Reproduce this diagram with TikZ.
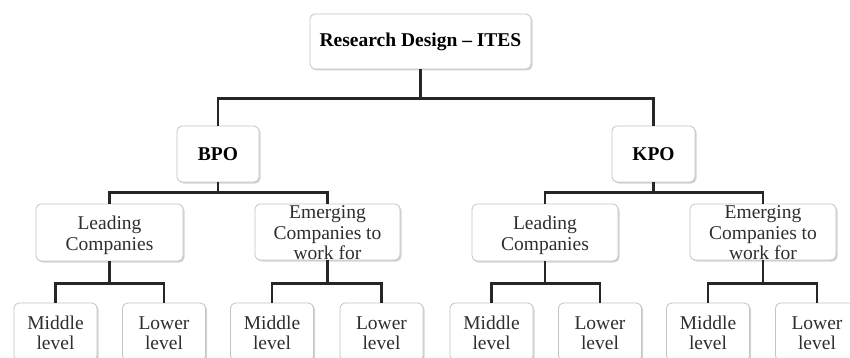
\documentclass[tikz,border=0pt]{standalone}
\usepackage{fontspec}
\setmainfont{Liberation Serif}
\usetikzlibrary{shadows}
\definecolor{BoxEdge}{HTML}{C4C4C4}
\definecolor{BoxShade}{HTML}{A0A0A0}
\definecolor{LabelGrey}{HTML}{2E2E2E}
\newcommand{\stacked}[1]{\raisebox{-8.5pt}[0pt][0pt]{\begin{tabular}{@{}c@{}}#1\end{tabular}}}

\begin{document}
\begin{tikzpicture}[x=1pt,y=-1pt,
  box/.style={draw=BoxEdge,line width=0.8pt,rounded corners=5pt,fill=white,
    drop shadow={shadow xshift=1.5pt,shadow yshift=-1.5pt,fill=BoxShade,opacity=0.45},
    inner sep=0pt,font=\fontsize{19.5}{20.5}\selectfont,text=LabelGrey},
  headbox/.style={box,font=\fontsize{19.5}{21}\selectfont\bfseries,text=black},
  levelbox/.style={box,minimum width=83,minimum height=58},
  tree/.style={line width=2.6pt,draw=black!85}]
  \useasboundingbox (0,0) rectangle (850,358);
  % top and branches
  \node[headbox,minimum width=221,minimum height=55] (ites) at (420.5,41.5) {Research Design -- ITES};
  \node[headbox,minimum width=82,minimum height=56] (bpo) at (218,154) {BPO};
  \node[headbox,minimum width=83,minimum height=56] (kpo) at (653.5,154) {KPO};
  % company groups
  \node[box,minimum width=147,minimum height=57] (blead) at (109.5,232.5) {\stacked{Leading\\Companies}};
  \node[box,minimum width=145,minimum height=56] (bemer) at (327.5,232) {\stacked{Emerging\\Companies to\\work for}};
  \node[box,minimum width=146,minimum height=57] (klead) at (545,232.5) {\stacked{Leading\\Companies}};
  \node[box,minimum width=146,minimum height=56] (kemer) at (763,232) {\stacked{Emerging\\Companies to\\work for}};
  % levels
  \node[levelbox] (bleadmid) at (55.5,332) {\stacked{Middle\\level}};
  \node[levelbox] (bleadlow) at (164,332) {\stacked{Lower\\level}};
  \node[levelbox] (bemermid) at (272,332) {\stacked{Middle\\level}};
  \node[levelbox] (bemerlow) at (381.5,332) {\stacked{Lower\\level}};
  \node[levelbox] (kleadmid) at (491.5,332) {\stacked{Middle\\level}};
  \node[levelbox] (kleadlow) at (600,332) {\stacked{Lower\\level}};
  \node[levelbox] (kemermid) at (708,332) {\stacked{Middle\\level}};
  \node[levelbox] (kemerlow) at (817,332) {\stacked{Lower\\level}};
  % connectors
  \draw[tree] (ites.south) -- ++(0,29) -| (bpo.north);
  \draw[tree] (ites.south) -- ++(0,29) -| (kpo.north);
  \draw[tree] (bpo.south) -- ++(0,10) -| (blead.north);
  \draw[tree] (bpo.south) -- ++(0,10) -| (bemer.north);
  \draw[tree] (kpo.south) -- ++(0,10) -| (klead.north);
  \draw[tree] (kpo.south) -- ++(0,10) -| (kemer.north);
  \draw[tree] (blead.south) -- ++(0,22) -| (bleadmid.north);
  \draw[tree] (blead.south) -- ++(0,22) -| (bleadlow.north);
  \draw[tree] (bemer.south) -- ++(0,23) -| (bemermid.north);
  \draw[tree] (bemer.south) -- ++(0,23) -| (bemerlow.north);
  \draw[tree] (klead.south) -- ++(0,22) -| (kleadmid.north);
  \draw[tree] (klead.south) -- ++(0,22) -| (kleadlow.north);
  \draw[tree] (kemer.south) -- ++(0,23) -| (kemermid.north);
  \draw[tree] (kemer.south) -- ++(0,23) -| (kemerlow.north);
\end{tikzpicture}
\end{document}
